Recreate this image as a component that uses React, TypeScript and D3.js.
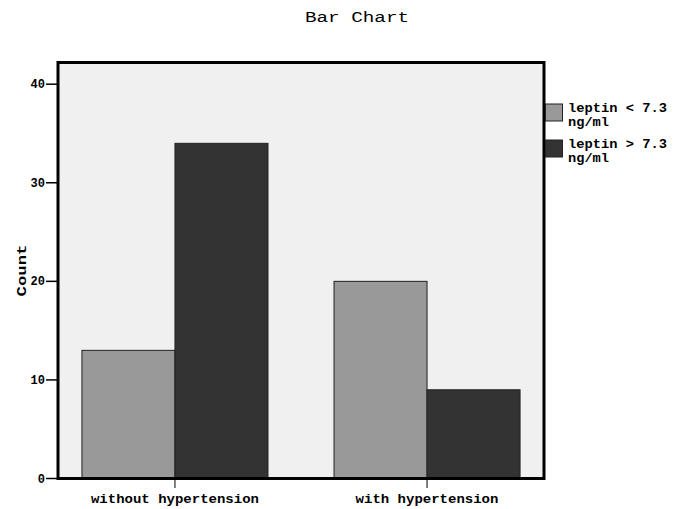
import React from "react";
import * as d3 from "d3";

const categories = ["without hypertension", "with hypertension"];
const seriesNames = ["leptin < 7.3 ng/ml", "leptin > 7.3 ng/ml"];
const legendLines = [["leptin < 7.3", "ng/ml"], ["leptin > 7.3", "ng/ml"]];
const seriesColors = ["#999999", "#333333"];
const lowLeptin = [13, 20];
const highLeptin = [34, 9];
const yTicks = [0, 10, 20, 30, 40];

const W = 683, H = 509;
const left = 58, right = 544, top = 62.5, bottom = 478.5;
const font = "'Liberation Mono', 'DejaVu Sans Mono', monospace";

export default function App() {
  const x = d3.scaleBand<string>().domain(categories).range([left, right]).paddingInner(0.262).paddingOuter(0.095);
  const xs = d3.scaleBand<string>().domain(seriesNames).range([0, x.bandwidth()]).padding(0);
  const y = d3.scaleLinear().domain([0, 42.2]).range([bottom, top]);
  const values = [lowLeptin, highLeptin];

  return (
    <svg width={W} height={H} style={{ position: "absolute", left: 0, top: 0 }}>
      <rect x={0} y={0} width={W} height={H} fill="#ffffff" />
      <text x={357} y={22} textAnchor="middle" fontFamily={font} fontSize={14} textLength={104} lengthAdjust="spacingAndGlyphs" fill="#000">Bar Chart</text>
      <rect x={left} y={top} width={right - left} height={bottom - top} fill="#f0f0f0" />
      {categories.map((c, ci) =>
        seriesNames.map((s, si) => {
          const v = values[si][ci];
          return (
            <rect key={c + s} x={(x(c) ?? 0) + (xs(s) ?? 0)} y={y(v)} width={xs.bandwidth()} height={y(0) - y(v)}
              fill={seriesColors[si]} stroke="#222" strokeWidth={1} />
          );
        })
      )}
      <rect x={left} y={top} width={right - left} height={bottom - top} fill="none" stroke="#000" strokeWidth={3} />
      {yTicks.map(t => (
        <g key={t}>
          <line x1={46} x2={left} y1={y(t)} y2={y(t)} stroke="#000" strokeWidth={1.5} />
          <text x={45} y={y(t) + 4} textAnchor="end" fontFamily={font} fontWeight="bold" fontSize={12} fill="#000">{t}</text>
        </g>
      ))}
      {categories.map(c => {
        const cx = (x(c) ?? 0) + x.bandwidth() / 2;
        return (
          <g key={c}>
            <line x1={cx} x2={cx} y1={bottom} y2={488} stroke="#000" strokeWidth={1} />
            <text x={cx} y={503} textAnchor="middle" fontFamily={font} fontWeight="bold" fontSize={12.5}
              textLength={c.length * 8.4} lengthAdjust="spacingAndGlyphs" fill="#000">{c}</text>
          </g>
        );
      })}
      <text transform={`translate(26,${(top + bottom) / 2}) rotate(-90)`} textAnchor="middle" fontFamily={font} fontWeight="bold" fontSize={13}
        textLength={52} lengthAdjust="spacingAndGlyphs" fill="#000">Count</text>
      {legendLines.map((lines, i) => (
        <g key={i}>
          <rect x={545.5} y={104 + i * 36} width={17} height={17} fill={seriesColors[i]} stroke="#222" strokeWidth={1} />
          <text x={568} y={112 + i * 36} fontFamily={font} fontWeight="bold" fontSize={12.5} textLength={99} lengthAdjust="spacingAndGlyphs" fill="#000">{lines[0]}</text>
          <text x={568} y={126 + i * 36} fontFamily={font} fontWeight="bold" fontSize={12.5} textLength={41} lengthAdjust="spacingAndGlyphs" fill="#000">{lines[1]}</text>
        </g>
      ))}
    </svg>
  );
}
